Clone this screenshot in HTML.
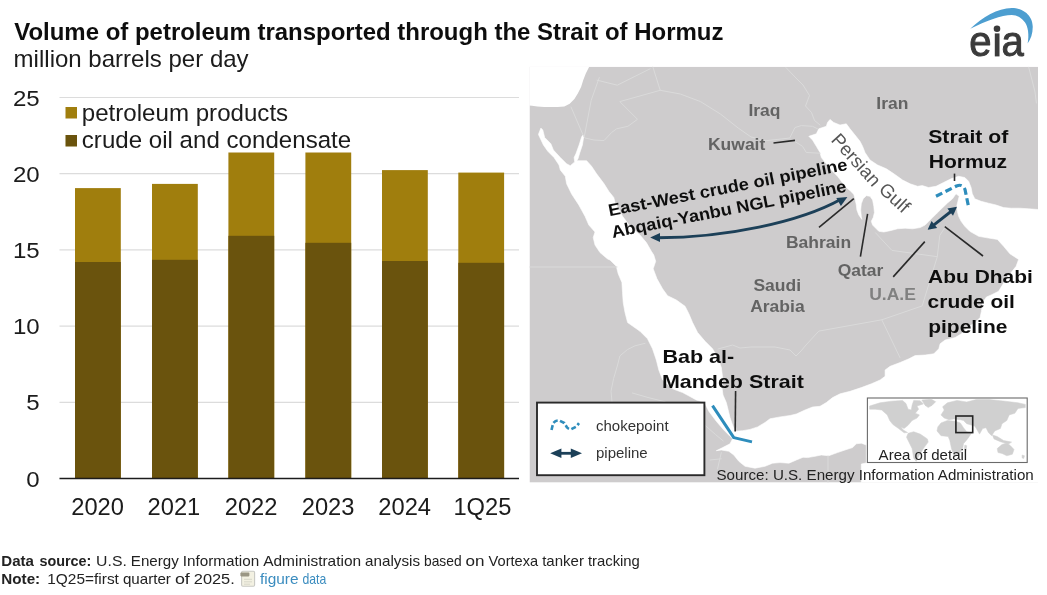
<!DOCTYPE html>
<html><head><meta charset="utf-8"><title>Volume of petroleum transported through the Strait of Hormuz</title>
<style>
html,body{margin:0;padding:0;background:#fff;}
body{width:1047px;height:595px;overflow:hidden;}
svg{display:block;font-family:"Liberation Sans",sans-serif;}
</style></head><body>
<svg width="1047" height="595" viewBox="0 0 1047 595">
<defs><filter id="b1" x="-2%" y="-2%" width="104%" height="104%"><feGaussianBlur stdDeviation="0.35"/></filter><filter id="b2" x="-2%" y="-2%" width="104%" height="104%"><feGaussianBlur stdDeviation="0.55"/></filter></defs>
<rect x="0" y="0" width="1047" height="595" fill="#fff"/>
<g filter="url(#b1)">
<line x1="59.5" x2="519" y1="402.3" y2="402.3" stroke="#DCDCDC" stroke-width="1.2"/>
<line x1="59.5" x2="519" y1="326.1" y2="326.1" stroke="#DCDCDC" stroke-width="1.2"/>
<line x1="59.5" x2="519" y1="249.9" y2="249.9" stroke="#DCDCDC" stroke-width="1.2"/>
<line x1="59.5" x2="519" y1="173.7" y2="173.7" stroke="#DCDCDC" stroke-width="1.2"/>
<line x1="59.5" x2="519" y1="97.5" y2="97.5" stroke="#DCDCDC" stroke-width="1.2"/>
<rect x="75.0" y="188.1" width="45.8" height="290.4" fill="#A07E0E"/>
<rect x="75.0" y="262.0" width="45.8" height="216.5" fill="#6B520A"/>
<rect x="152.0" y="183.9" width="45.8" height="294.6" fill="#A07E0E"/>
<rect x="152.0" y="259.8" width="45.8" height="218.7" fill="#6B520A"/>
<rect x="228.4" y="152.5" width="45.8" height="326.0" fill="#A07E0E"/>
<rect x="228.4" y="235.8" width="45.8" height="242.7" fill="#6B520A"/>
<rect x="305.4" y="152.5" width="45.8" height="326.0" fill="#A07E0E"/>
<rect x="305.4" y="242.8" width="45.8" height="235.7" fill="#6B520A"/>
<rect x="382.0" y="170.1" width="45.8" height="308.4" fill="#A07E0E"/>
<rect x="382.0" y="261.0" width="45.8" height="217.5" fill="#6B520A"/>
<rect x="458.3" y="172.6" width="45.8" height="305.9" fill="#A07E0E"/>
<rect x="458.3" y="262.8" width="45.8" height="215.7" fill="#6B520A"/>
<line x1="59.5" x2="519" y1="478.5" y2="478.5" stroke="#1a1a1a" stroke-width="1.6"/>
<text transform="translate(39.7,486.5) scale(1.055,1)" font-size="22.8" font-weight="normal" fill="#1a1a1a" text-anchor="end" >0</text>
<text transform="translate(39.7,410.3) scale(1.055,1)" font-size="22.8" font-weight="normal" fill="#1a1a1a" text-anchor="end" >5</text>
<text transform="translate(39.7,334.1) scale(1.055,1)" font-size="22.8" font-weight="normal" fill="#1a1a1a" text-anchor="end" >10</text>
<text transform="translate(39.7,257.9) scale(1.055,1)" font-size="22.8" font-weight="normal" fill="#1a1a1a" text-anchor="end" >15</text>
<text transform="translate(39.7,181.7) scale(1.055,1)" font-size="22.8" font-weight="normal" fill="#1a1a1a" text-anchor="end" >20</text>
<text transform="translate(39.7,105.5) scale(1.055,1)" font-size="22.8" font-weight="normal" fill="#1a1a1a" text-anchor="end" >25</text>
<text x="97.6" y="514.8" text-anchor="middle" font-size="23.7" fill="#1a1a1a">2020</text>
<text x="173.9" y="514.8" text-anchor="middle" font-size="23.7" fill="#1a1a1a">2021</text>
<text x="251.1" y="514.8" text-anchor="middle" font-size="23.7" fill="#1a1a1a">2022</text>
<text x="328.1" y="514.8" text-anchor="middle" font-size="23.7" fill="#1a1a1a">2023</text>
<text x="404.7" y="514.8" text-anchor="middle" font-size="23.7" fill="#1a1a1a">2024</text>
<text x="482.4" y="514.8" text-anchor="middle" font-size="23.7" fill="#1a1a1a">1Q25</text>
<rect x="65.5" y="107" width="11.5" height="11.5" fill="#A07E0E"/>
<rect x="65.5" y="135" width="11.5" height="11.5" fill="#6B520A"/>
<text transform="translate(81.8,120.5) scale(1.035,1)" font-size="23.3" font-weight="normal" fill="#1a1a1a" text-anchor="start" >petroleum products</text>
<text transform="translate(81.8,148.0) scale(1.035,1)" font-size="23.3" font-weight="normal" fill="#1a1a1a" text-anchor="start" >crude oil and condensate</text>
<text transform="translate(14.2,39.6) scale(1.0425,1)" font-size="23.0" font-weight="bold" fill="#111" text-anchor="start" >Volume of petroleum transported through the Strait of Hormuz</text>
<text transform="translate(13.6,66.7) scale(1.045,1)" font-size="23.0" font-weight="normal" fill="#1a1a1a" text-anchor="start" >million barrels per day</text>
</g>
<g filter="url(#b2)">
<clipPath id="mc"><rect x="529.5" y="66.7" width="508.5" height="415.90000000000003"/></clipPath>
<g clip-path="url(#mc)">
<rect x="529.5" y="66.7" width="508.5" height="415.90000000000003" fill="#CECCCD"/>
<path d="M520.0,60.0 L589.2,60.0 L589.2,66.7 L585.8,73.4 L583.2,80.2 L581.1,86.9 L577.8,93.6 L574.4,99.0 L569.7,103.7 L564.3,106.4 L557.6,107.1 L550.9,107.1 L544.2,107.1 L537.4,106.4 L532.0,105.7 L520.0,105.0 Z" fill="#fff"/>
<path d="M540.9,128.1 L538.4,134.4 L543.4,145.0 L547.8,151.3 L554.0,157.5 L559.0,165.0 L560.3,170.0 L565.3,176.3 L566.6,183.8 L571.6,194.0 L578.8,205.0 L585.0,216.3 L588.8,225.0 L595.0,232.0 L593.2,237.6 L595.0,245.0 L600.0,252.6 L607.6,259.0 L610.0,260.0 L616.3,266.3 L618.2,273.8 L621.9,282.5 L622.5,292.5 L623.2,302.6 L625.0,312.6 L627.6,322.6 L632.5,326.0 L640.0,331.3 L647.5,338.8 L652.5,348.8 L656.3,360.0 L658.8,370.0 L662.6,380.0 L672.6,388.8 L682.6,392.6 L690.0,396.5 L696.3,400.0 L704.4,402.5 L708.8,411.3 L716.3,421.3 L723.8,430.0 L730.0,436.3 L732.6,438.8 L730.0,443.8 L722.6,447.6 L716.3,450.7 L721.3,450.0 L728.8,451.3 L733.8,455.0 L738.8,461.3 L745.0,466.3 L755.0,468.2 L765.0,466.3 L772.6,463.2 L780.0,462.6 L788.9,463.2 L796.4,460.0 L803.0,457.3 L807.5,457.6 L815.0,456.3 L821.3,455.0 L828.8,455.7 L837.5,452.6 L845.0,450.0 L852.6,447.6 L856.3,443.8 L861.3,443.2 L866.3,445.0 L866.3,463.0 L861.3,464.0 L861.3,490.0 L1045.0,490.0 L1045.0,210.0 L1028.6,208.8 L1019.9,208.2 L1011.1,208.2 L1003.6,207.6 L996.1,205.0 L988.6,203.2 L981.1,201.3 L974.8,198.8 L972.3,193.8 L971.1,187.5 L968.6,181.3 L964.8,177.5 L958.6,176.3 L951.0,178.8 L943.5,182.5 L936.0,186.3 L928.5,187.5 L922.3,185.6 L917.6,186.3 L910.1,183.8 L902.6,180.0 L893.9,173.8 L886.4,168.8 L877.6,165.0 L870.0,160.0 L865.0,152.5 L862.6,146.3 L860.0,141.3 L855.0,135.0 L850.0,128.8 L846.3,123.8 L840.0,125.0 L833.8,122.5 L830.0,119.4 L827.5,122.5 L826.3,126.3 L818.8,128.8 L816.3,133.8 L808.8,136.3 L812.5,140.0 L816.3,146.3 L820.0,152.5 L821.3,157.5 L826.3,163.8 L831.3,170.0 L837.5,176.3 L841.9,182.0 L846.3,187.5 L850.7,191.3 L853.8,194.4 L855.0,198.8 L856.3,205.0 L856.9,210.0 L858.8,215.0 L861.9,219.4 L861.3,216.3 L860.7,210.0 L861.3,203.8 L863.2,198.8 L866.3,195.7 L870.0,196.3 L872.6,200.0 L873.8,206.3 L874.4,212.6 L873.2,217.6 L871.3,221.3 L872.6,225.1 L876.3,228.8 L878.8,231.3 L883.8,232.0 L890.1,230.7 L897.6,228.8 L905.1,228.2 L912.6,228.8 L920.1,227.6 L925.1,225.1 L928.9,221.3 L932.6,217.6 L937.2,213.0 L942.3,208.0 L947.5,203.0 L952.5,198.8 L956.0,193.8 L959.2,196.3 L957.9,201.3 L956.7,206.3 L957.3,211.3 L958.6,216.3 L961.1,221.3 L964.8,226.3 L969.8,231.3 L978.6,236.3 L988.6,238.1 L997.4,239.4 L1003.6,246.3 L1009.9,253.8 L1018.6,259.4 L1016.1,266.3 L1011.1,272.6 L1006.1,278.8 L1002.4,285.0 L998.6,291.3 L991.1,295.0 L986.4,297.0 L982.6,302.5 L981.4,311.3 L980.1,317.5 L975.1,322.5 L967.6,327.5 L961.4,333.8 L955.1,337.6 L945.1,340.0 L940.1,343.8 L938.8,348.8 L933.8,353.8 L925.1,355.0 L915.1,355.6 L908.9,358.8 L900.1,362.5 L890.1,366.3 L885.1,370.0 L885.1,376.3 L880.1,380.0 L871.4,383.8 L861.3,387.6 L850.1,391.3 L840.1,393.8 L832.6,397.6 L826.3,402.6 L820.0,406.3 L812.5,407.0 L805.0,410.0 L796.3,414.0 L790.0,415.5 L780.0,416.9 L770.0,418.8 L765.0,422.5 L757.6,426.9 L750.0,429.4 L742.6,430.7 L735.0,431.3 L732.6,425.0 L730.0,417.5 L728.2,410.0 L726.3,402.5 L723.0,395.0 L722.0,387.6 L722.6,377.6 L721.4,367.6 L717.6,357.5 L712.6,348.8 L705.1,341.3 L697.6,332.5 L692.6,322.6 L688.9,313.8 L685.1,306.3 L676.4,300.0 L667.6,295.7 L662.6,288.8 L657.0,278.8 L653.2,268.8 L655.7,261.3 L653.8,255.0 L651.4,251.3 L646.4,242.6 L640.0,235.0 L630.0,226.3 L622.6,216.3 L615.0,202.5 L613.8,197.5 L608.8,191.3 L604.1,183.8 L596.6,173.8 L591.6,166.3 L586.6,160.7 L576.8,160.7 L578.0,158.8 L579.9,152.5 L582.4,145.0 L583.8,136.3 L582.8,135.0 L581.6,136.9 L579.1,145.0 L575.9,153.8 L574.1,157.5 L574.7,161.9 L570.3,165.7 L566.6,163.8 L560.3,157.5 L553.4,150.0 L550.9,143.8 L544.7,137.5 L542.8,130.0 Z" fill="#fff" stroke="#fff" stroke-width="0.6" stroke-linejoin="round"/>
<path d="M571.0,107.0 L583.2,135.3" fill="none" stroke="#DADADA" stroke-width="1" stroke-linejoin="round" stroke-linecap="round"/>
<path d="M599.3,77.5 L591.2,100.3 L584.5,135.6" fill="none" stroke="#DADADA" stroke-width="1" stroke-linejoin="round" stroke-linecap="round"/>
<path d="M597.1,80.2 L617.3,85.2 L650.1,68.8" fill="none" stroke="#DADADA" stroke-width="1" stroke-linejoin="round" stroke-linecap="round"/>
<path d="M583.5,136.0 L585.0,138.0 L594.0,140.0 L604.0,140.6 L611.6,132.5 L616.6,128.8 L627.9,126.3 L637.5,119.3 L619.8,101.6 L660.2,90.3" fill="none" stroke="#DADADA" stroke-width="1" stroke-linejoin="round" stroke-linecap="round"/>
<path d="M652.6,66.0 L660.2,90.3 L680.3,94.0 L700.5,101.6 L720.7,114.2 L738.3,128.1 L750.9,136.9 L766.0,140.7 L790.0,138.0" fill="none" stroke="#DADADA" stroke-width="1" stroke-linejoin="round" stroke-linecap="round"/>
<path d="M786.0,67.6 L796.0,78.0 L803.0,85.0 L809.5,95.5 L805.5,106.0 L811.5,112.5 L814.5,120.5 L820.0,125.0" fill="none" stroke="#DADADA" stroke-width="1" stroke-linejoin="round" stroke-linecap="round"/>
<path d="M790.0,137.5 L795.0,127.5 L801.3,125.6 L812.5,126.3 L817.5,128.8" fill="none" stroke="#DADADA" stroke-width="1" stroke-linejoin="round" stroke-linecap="round"/>
<path d="M792.5,140.0 L802.5,146.3 L806.3,152.5 L820.0,153.2" fill="none" stroke="#DADADA" stroke-width="1" stroke-linejoin="round" stroke-linecap="round"/>
<path d="M875.5,232.8 L891.9,250.4 L937.3,256.7 L939.8,235.3 L946.0,226.0" fill="none" stroke="#DADADA" stroke-width="1" stroke-linejoin="round" stroke-linecap="round"/>
<path d="M937.3,256.7 L922.2,305.9 L881.8,319.8 L818.8,331.1 L806.0,345.0 L801.0,351.0 L796.0,356.0 L790.0,350.0 L775.0,347.0 L751.0,347.0 L740.0,348.0 L732.6,345.0 L718.0,349.0" fill="none" stroke="#DADADA" stroke-width="1" stroke-linejoin="round" stroke-linecap="round"/>
<path d="M881.8,319.8 L900.0,357.6" fill="none" stroke="#DADADA" stroke-width="1" stroke-linejoin="round" stroke-linecap="round"/>
<path d="M529.0,267.0 L617.0,267.0" fill="none" stroke="#DADADA" stroke-width="1" stroke-linejoin="round" stroke-linecap="round"/>
<path d="M645.1,343.3 L635.0,345.8 L627.4,349.6 L619.9,355.9 L617.3,366.0 L613.6,378.6 L611.0,391.2 L612.3,405.0" fill="none" stroke="#DADADA" stroke-width="1" stroke-linejoin="round" stroke-linecap="round"/>
<path d="M632.4,393.0 L648.0,397.5 L665.2,401.8" fill="none" stroke="#DADADA" stroke-width="1" stroke-linejoin="round" stroke-linecap="round"/>
<path d="M705.5,425.7 L715.6,434.6 L723.2,440.9" fill="none" stroke="#DADADA" stroke-width="1" stroke-linejoin="round" stroke-linecap="round"/>
<path d="M710.0,460.0 L721.3,458.8" fill="none" stroke="#DADADA" stroke-width="1" stroke-linejoin="round" stroke-linecap="round"/>
<path d="M721.3,452.6 L717.5,469.0" fill="none" stroke="#DADADA" stroke-width="1" stroke-linejoin="round" stroke-linecap="round"/>
<path d="M828.0,456.0 L828.0,483.0" fill="none" stroke="#DADADA" stroke-width="1" stroke-linejoin="round" stroke-linecap="round"/>
<path d="M1028.6,67.0 L1032.0,80.0 L1035.0,92.0 L1036.4,103.0" fill="none" stroke="#DADADA" stroke-width="1" stroke-linejoin="round" stroke-linecap="round"/>
</g>
<path d="M656,237.7 C725,238 800,222 841,199.2" fill="none" stroke="#1C3F58" stroke-width="2.9"/>
<path d="M650.2,237.6 L660.0,233.1 L660.0,242.1 Z" fill="#1C3F58"/>
<path d="M847.4,196.9 L840.9,206.0 L836.3,197.9 Z" fill="#1C3F58"/>
<path d="M933,225.6 L951.6,211" fill="none" stroke="#1C3F58" stroke-width="2.9"/>
<path d="M927.6,229.8 L931.6,220.9 L937.2,228.1 Z" fill="#1C3F58"/>
<path d="M957.0,206.8 L953.0,215.7 L947.4,208.5 Z" fill="#1C3F58"/>
<path d="M936,196.3 L956.5,186.0 Q962.5,183.5 965,189.5 L968.8,208" fill="none" stroke="#2E8DBC" stroke-width="3.2" stroke-dasharray="7,3.6"/>
<path d="M712.5,405.6 L733.8,437.6 L752,441.9" fill="none" stroke="#2E8DBC" stroke-width="3" stroke-linejoin="round"/>
<line x1="773.5" y1="143" x2="795" y2="140.4" stroke="#2a2a2a" stroke-width="1.6"/>
<line x1="853.8" y1="198.7" x2="819" y2="227.3" stroke="#2a2a2a" stroke-width="1.6"/>
<line x1="867.6" y1="213.8" x2="860.4" y2="256.7" stroke="#2a2a2a" stroke-width="1.6"/>
<line x1="924.8" y1="241.6" x2="893.2" y2="276.9" stroke="#2a2a2a" stroke-width="1.6"/>
<line x1="944.8" y1="226.7" x2="983" y2="256" stroke="#2a2a2a" stroke-width="1.6"/>
<line x1="954.5" y1="173.6" x2="954.5" y2="181" stroke="#2a2a2a" stroke-width="1.6"/>
<line x1="735.6" y1="391" x2="735.2" y2="431.5" stroke="#2a2a2a" stroke-width="1.6"/>
<text transform="translate(748.4,115.5) scale(1.1,1)" font-size="15.9" font-weight="bold" fill="#646464" text-anchor="start" >Iraq</text>
<text transform="translate(876.3,108.5) scale(1.1,1)" font-size="15.9" font-weight="bold" fill="#646464" text-anchor="start" >Iran</text>
<text transform="translate(708,149.7) scale(1.1,1)" font-size="15.9" font-weight="bold" fill="#646464" text-anchor="start" >Kuwait</text>
<text transform="translate(786,248.0) scale(1.1,1)" font-size="15.9" font-weight="bold" fill="#646464" text-anchor="start" >Bahrain</text>
<text transform="translate(837.7,275.6) scale(1.1,1)" font-size="15.9" font-weight="bold" fill="#646464" text-anchor="start" >Qatar</text>
<text transform="translate(753.4,290.5) scale(1.1,1)" font-size="15.9" font-weight="bold" fill="#646464" text-anchor="start" >Saudi</text>
<text transform="translate(750.2,312.0) scale(1.1,1)" font-size="15.9" font-weight="bold" fill="#646464" text-anchor="start" >Arabia</text>
<text transform="translate(869.2,299.6) scale(1.1,1)" font-size="15.9" font-weight="bold" fill="#808080" text-anchor="start" >U.A.E</text>
<text transform="translate(928.2,142.6) scale(1.105,1)" font-size="19.2" font-weight="bold" fill="#111" text-anchor="start" >Strait of</text>
<text transform="translate(928.7,168.4) scale(1.097,1)" font-size="19.2" font-weight="bold" fill="#111" text-anchor="start" >Hormuz</text>
<text transform="translate(928.1,282.5) scale(1.092,1)" font-size="19.2" font-weight="bold" fill="#111" text-anchor="start" >Abu Dhabi</text>
<text transform="translate(927.6,308.3) scale(1.092,1)" font-size="19.2" font-weight="bold" fill="#111" text-anchor="start" >crude oil</text>
<text transform="translate(928.2,333.1) scale(1.092,1)" font-size="19.2" font-weight="bold" fill="#111" text-anchor="start" >pipeline</text>
<text transform="translate(662.4,362.5) scale(1.122,1)" font-size="19.2" font-weight="bold" fill="#111" text-anchor="start" >Bab al-</text>
<text transform="translate(661.9,387.7) scale(1.118,1)" font-size="19.2" font-weight="bold" fill="#111" text-anchor="start" >Mandeb Strait</text>
<text transform="translate(609.4,216.2) rotate(-11) scale(1.076,1)" font-size="17" font-weight="bold" fill="#111" text-anchor="start" >East-West crude oil pipeline</text>
<text transform="translate(612.7,237.9) rotate(-11.2) scale(1.07,1)" font-size="17" font-weight="bold" fill="#111" text-anchor="start" >Abqaiq-Yanbu NGL pipeline</text>
<text transform="translate(830.25,140.6) rotate(47.9)" font-size="18.7" font-weight="normal" fill="#555" text-anchor="start" >Persian</text>
<text transform="translate(877.7,190.65) rotate(42.9)" font-size="18.7" font-weight="normal" fill="#555" text-anchor="start" >Gulf</text>
<rect x="537" y="402.6" width="167.4" height="72.6" fill="#fff" stroke="#2a2a2a" stroke-width="1.9"/>
<path d="M551.5,430.0 L553.2,423.1 Q556,419.9 559.2,420.5 L564.4,423.1 L567,427.4 Q569,429.5 571.3,429.1 L576.4,426.5 L579,423.1" fill="none" stroke="#2E8DBC" stroke-width="2.6" stroke-dasharray="5,2.4"/>
<path d="M556,453.3 L576,453.3" stroke="#1C3F58" stroke-width="2.8"/>
<path d="M550.2,453.3 L561.4,448.5 L561.4,458.1 Z M582.0,453.3 L570.8,448.5 L570.8,458.1 Z" fill="#1C3F58"/>
<text transform="translate(596,431.0)" font-size="15" font-weight="normal" fill="#333" text-anchor="start" >chokepoint</text>
<text transform="translate(596,457.7)" font-size="15" font-weight="normal" fill="#333" text-anchor="start" >pipeline</text>
<rect x="867.4" y="398.0" width="159.8" height="64.5" fill="#fff" stroke="#6a6a6a" stroke-width="1.1"/>
<path d="M869.6,406.0 L880.0,402.8 L891.3,401.2 L902.5,400.4 L906.0,403.6 L908.1,409.2 L911.3,410.0 L912.1,405.2 L913.7,400.4 L920.2,400.7 L923.4,403.9 L917.0,406.0 L918.6,409.2 L915.3,413.3 L919.4,414.9 L917.0,418.1 L912.1,420.5 L908.1,425.3 L904.1,428.5 L900.9,426.9 L903.3,430.1 L907.6,432.5 L904.1,432.8 L898.5,428.5 L892.9,424.5 L889.7,420.5 L887.3,414.9 L881.7,410.0 L875.2,409.2 L869.6,409.2 Z" fill="#D0D0D0" stroke="#D0D0D0" stroke-width="0.5" stroke-linejoin="round"/>
<path d="M921.8,400.1 L931.4,399.3 L935.7,401.7 L932.2,405.2 L928.2,407.6 L925.0,405.2 Z" fill="#D0D0D0" stroke="#D0D0D0" stroke-width="0.5" stroke-linejoin="round"/>
<path d="M908.1,433.3 L913.7,431.7 L920.2,434.1 L927.4,438.9 L928.2,442.1 L923.4,448.6 L919.4,455.0 L916.2,461.4 L913.7,458.2 L912.1,448.6 L908.9,442.1 L906.5,437.3 Z" fill="#D0D0D0" stroke="#D0D0D0" stroke-width="0.5" stroke-linejoin="round"/>
<path d="M941.0,414.9 L944.2,410.0 L942.6,406.8 L947.4,402.8 L957.1,400.4 L966.7,402.0 L976.3,399.6 L989.2,399.6 L1005.2,401.2 L1018.0,402.8 L1025.3,404.4 L1025.3,407.6 L1018.0,408.4 L1014.8,413.3 L1009.2,414.9 L1006.8,420.5 L1002.0,423.7 L1000.4,428.5 L994.8,430.9 L991.6,435.7 L988.4,432.5 L986.0,427.7 L982.7,428.5 L979.5,434.1 L976.3,428.5 L974.7,426.1 L966.7,423.7 L963.5,420.5 L960.3,419.7 L953.9,418.9 L949.0,419.7 L944.2,418.1 Z" fill="#D0D0D0" stroke="#D0D0D0" stroke-width="0.5" stroke-linejoin="round"/>
<path d="M937.8,426.9 L941.0,422.9 L947.4,420.5 L955.5,421.3 L960.3,422.9 L963.5,427.7 L966.7,431.7 L971.5,433.3 L967.5,438.9 L963.5,443.7 L962.7,448.6 L958.7,455.0 L953.9,455.8 L951.5,448.6 L949.8,440.5 L948.2,436.5 L941.0,435.7 L937.0,430.9 Z" fill="#D0D0D0" stroke="#D0D0D0" stroke-width="0.5" stroke-linejoin="round"/>
<path d="M964.8,445.0 L966.7,445.7 L966.1,450.5 L964.4,449.4 Z" fill="#D0D0D0" stroke="#D0D0D0" stroke-width="0.5" stroke-linejoin="round"/>
<path d="M992.4,434.9 L997.2,436.5 L1003.6,440.5 L1011.6,442.1 L1008.4,444.1 L1000.4,441.7 L994.0,438.9 Z" fill="#D0D0D0" stroke="#D0D0D0" stroke-width="0.5" stroke-linejoin="round"/>
<path d="M997.2,448.6 L1002.0,444.5 L1006.8,442.9 L1010.0,445.3 L1014.0,449.4 L1012.4,454.2 L1006.8,455.8 L1002.0,453.4 L998.0,452.6 Z" fill="#D0D0D0" stroke="#D0D0D0" stroke-width="0.5" stroke-linejoin="round"/>
<path d="M1022.1,455.0 L1024.5,455.8 L1023.7,458.5 L1022.1,457.9 Z" fill="#D0D0D0" stroke="#D0D0D0" stroke-width="0.5" stroke-linejoin="round"/>
<rect x="955.9" y="416.0" width="16.8" height="16.6" fill="none" stroke="#222" stroke-width="1.6"/>
<text transform="translate(878.6,460.2) scale(1.075,1)" font-size="14" font-weight="normal" fill="#222" text-anchor="start" >Area of detail</text>
<text transform="translate(716.5,479.9) scale(1.082,1)" font-size="14" font-weight="normal" fill="#222" text-anchor="start" >Source: U.S. Energy Information Administration</text>
</g>
<g filter="url(#b1)">
<path d="M970.23,28.70 C983.05,16.91 997.39,8.20 1011.74,7.99 C1023.02,7.99 1032.75,15.37 1032.75,26.85 C1032.75,33.82 1030.70,39.46 1027.63,43.56 C1029.37,34.85 1027.94,26.85 1025.07,22.55 C1021.99,17.94 1017.07,14.96 1011.74,14.96 C1001.49,14.96 986.12,21.01 970.23,28.70 Z" fill="#4D9ED0"/>
<text transform="translate(969.3,56.0) scale(0.94,1)" font-size="42.6" font-weight="normal" fill="#3a3a3a" text-anchor="start" stroke="#3a3a3a" stroke-width="1.0" stroke-linejoin="round">e</text>
<text transform="translate(1001.6,56.0) scale(0.94,1)" font-size="42.6" font-weight="normal" fill="#3a3a3a" text-anchor="start" stroke="#3a3a3a" stroke-width="1.0" stroke-linejoin="round">a</text>
<rect x="994.8" y="33.4" width="4.7" height="23.0" fill="#3a3a3a"/>
<circle cx="997.0" cy="28.8" r="3.3" fill="#3a3a3a"/>
<text x="1.3" y="565.5" font-size="14.2" font-weight="bold" fill="#222" textLength="32.6" lengthAdjust="spacingAndGlyphs">Data</text>
<text x="39.4" y="565.5" font-size="14.2" font-weight="bold" fill="#222" textLength="52.0" lengthAdjust="spacingAndGlyphs">source:</text>
<text x="96.1" y="565.5" font-size="14.2" font-weight="normal" fill="#222" textLength="30.7" lengthAdjust="spacingAndGlyphs">U.S.</text>
<text x="130.8" y="565.5" font-size="14.2" font-weight="normal" fill="#222" textLength="48" lengthAdjust="spacingAndGlyphs">Energy</text>
<text x="182.8" y="565.5" font-size="14.2" font-weight="normal" fill="#222" textLength="76.4" lengthAdjust="spacingAndGlyphs">Information</text>
<text x="263.2" y="565.5" font-size="14.2" font-weight="normal" fill="#222" textLength="97.9" lengthAdjust="spacingAndGlyphs">Administration</text>
<text x="365.1" y="565.5" font-size="14.2" font-weight="normal" fill="#222" textLength="54.9" lengthAdjust="spacingAndGlyphs">analysis</text>
<text x="424" y="565.5" font-size="14.2" font-weight="normal" fill="#222" textLength="37.6" lengthAdjust="spacingAndGlyphs">based</text>
<text x="465.6" y="565.5" font-size="14.2" font-weight="normal" fill="#222" textLength="19" lengthAdjust="spacingAndGlyphs">on</text>
<text x="488.6" y="565.5" font-size="14.2" font-weight="normal" fill="#222" textLength="49.6" lengthAdjust="spacingAndGlyphs">Vortexa</text>
<text x="542.2" y="565.5" font-size="14.2" font-weight="normal" fill="#222" textLength="41.7" lengthAdjust="spacingAndGlyphs">tanker</text>
<text x="587.9" y="565.5" font-size="14.2" font-weight="normal" fill="#222" textLength="52" lengthAdjust="spacingAndGlyphs">tracking</text>
<text x="1.3" y="583.6" font-size="14.2" font-weight="bold" fill="#222" textLength="38.9" lengthAdjust="spacingAndGlyphs">Note:</text>
<text x="47.3" y="583.6" font-size="14.2" font-weight="normal" fill="#222" textLength="71.6" lengthAdjust="spacingAndGlyphs">1Q25=first</text>
<text x="122.9" y="583.6" font-size="14.2" font-weight="normal" fill="#222" textLength="48" lengthAdjust="spacingAndGlyphs">quarter</text>
<text x="174.9" y="583.6" font-size="14.2" font-weight="normal" fill="#222" textLength="14.9" lengthAdjust="spacingAndGlyphs">of</text>
<text x="193.8" y="583.6" font-size="14.2" font-weight="normal" fill="#222" textLength="41" lengthAdjust="spacingAndGlyphs">2025.</text>
<g><rect x="241.6" y="571.2" width="13" height="15" rx="1.2" fill="#f3f1e2" stroke="#c9c9c4" stroke-width="1.1"/><rect x="240.4" y="572.6" width="9" height="3.8" rx="0.8" fill="#9a9684"/><path d="M244,579.3 H252 M244,581.8 H252 M244,584.2 H250" stroke="#cfcfc4" stroke-width="0.8"/></g>
<text x="260" y="583.6" font-size="14.2" font-weight="normal" fill="#3A8CBF" textLength="38.5" lengthAdjust="spacingAndGlyphs">figure</text>
<text x="302.5" y="583.6" font-size="14.2" font-weight="normal" fill="#3A8CBF" textLength="23.8" lengthAdjust="spacingAndGlyphs">data</text>
</g>
</svg>
</body></html>
